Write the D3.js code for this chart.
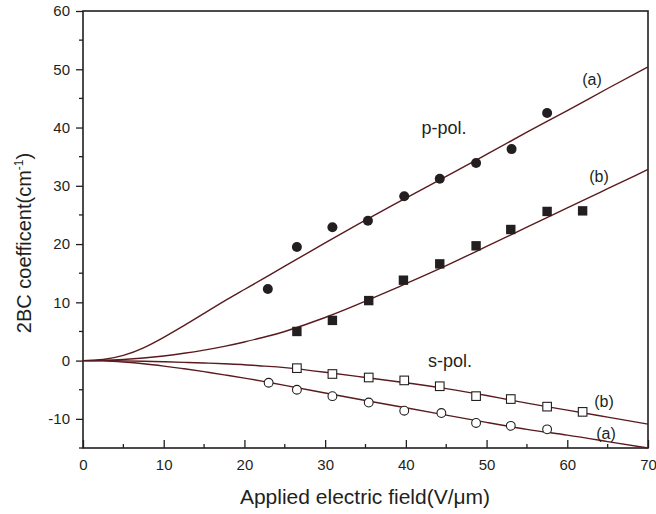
<!DOCTYPE html>
<html><head><meta charset="utf-8">
<script src="https://cdn.jsdelivr.net/npm/d3@7"></script>
<style>
body{margin:0;background:#fff;}
svg{display:block;font-family:"Liberation Sans",Arial,Helvetica,sans-serif;}
</style></head>
<body><svg id="c" width="656" height="514"></svg>
<script>
// ---- data ----
const xTicks = [0,10,20,30,40,50,60,70];
const yTicks = [-10,0,10,20,30,40,50,60];

// measured points
const pA_x = [22.9,26.5,30.9,35.3,39.8,44.2,48.7,53.1,57.5];
const pA_y = [12.3,19.5,22.9,24.0,28.2,31.2,33.9,36.3,42.5];
const pB_x = [26.5,30.9,35.4,39.7,44.2,48.7,53.0,57.5,61.9];
const pB_y = [5.0,6.9,10.3,13.8,16.6,19.7,22.5,25.6,25.7];
const sB_x = [26.5,30.9,35.4,39.8,44.2,48.7,53.0,57.5,61.9];
const sB_y = [-1.3,-2.3,-2.9,-3.4,-4.4,-6.1,-6.6,-7.9,-8.8];
const sA_x = [23.0,26.5,30.9,35.4,39.8,44.4,48.7,53.0,57.5];
const sA_y = [-3.8,-5.0,-6.1,-7.2,-8.6,-9.0,-10.7,-11.2,-11.8];

// fitted curves
const fitX  = [0,2.5,5,7.5,10,12.5,15,17.5,20,22.5,25,30,35,40,45,50,55,60,65,70];
const fitPA = [0,0.2,0.9,2.2,4.0,6.0,8.1,10.2,12.2,14.2,16.2,20.2,24.1,27.9,31.6,35.4,39.2,42.9,46.7,50.4];
const fitPB = [0,0.05,0.2,0.45,0.8,1.25,1.8,2.45,3.2,4.05,5.0,7.4,10.2,13.2,16.3,19.6,22.9,26.2,29.5,32.8];
const fitSB = [0,0,-0.05,-0.1,-0.2,-0.3,-0.4,-0.55,-0.7,-0.95,-1.2,-2.0,-2.9,-3.8,-4.8,-6.0,-7.3,-8.5,-9.7,-10.9];
const fitSA = [0,-0.05,-0.25,-0.55,-0.95,-1.4,-1.9,-2.45,-3.0,-3.6,-4.25,-5.55,-6.85,-8.1,-9.35,-10.6,-11.8,-12.8,-13.9,-15.0];

// ---- chart ----
const svg = d3.select("#c");
const L=83, R=648, T=11, B=448;
const x = d3.scaleLinear().domain([0,70]).range([L,R]);
const y = d3.scaleLinear().domain([-15,60]).range([B,T]);
const ink = "#231f20", lineCol = "#5a1a1e";
const fmt = d => String(d);

// minor ticks
const g = svg.append("g");
d3.range(5,70,10).forEach(v=>{
  g.append("line").attr("x1",x(v)).attr("x2",x(v)).attr("y1",B).attr("y2",B-4).attr("stroke",ink).attr("stroke-width",1.3);
});
d3.range(-15,60,10).forEach(v=>{
  g.append("line").attr("x1",L).attr("x2",L-4).attr("y1",y(v)).attr("y2",y(v)).attr("stroke",ink).attr("stroke-width",1.3);
});

// x axis (ticks inward)
const xa = svg.append("g").attr("transform",`translate(0,${B})`)
  .call(d3.axisBottom(x).tickValues(xTicks).tickSize(-8).tickPadding(0).tickFormat(fmt));
xa.select(".domain").remove();
xa.selectAll("line").attr("stroke",ink).attr("stroke-width",1.3);
xa.selectAll("text").attr("y",11).attr("dy","0.71em").attr("font-size",15).attr("fill",ink)
  .attr("font-family","Liberation Sans, Arial, sans-serif");

// y axis (ticks outward)
const ya = svg.append("g").attr("transform",`translate(${L},0)`)
  .call(d3.axisLeft(y).tickValues(yTicks).tickSize(7).tickPadding(6).tickFormat(fmt));
ya.select(".domain").remove();
ya.selectAll("line").attr("stroke",ink).attr("stroke-width",1.3);
ya.selectAll("text").attr("font-size",15).attr("fill",ink)
  .attr("font-family","Liberation Sans, Arial, sans-serif");

// frame
svg.append("rect").attr("x",L).attr("y",T).attr("width",R-L).attr("height",B-T)
  .attr("fill","none").attr("stroke",ink).attr("stroke-width",1.6);

// curves
const line = d3.line().x(d=>x(d[0])).y(d=>y(d[1])).curve(d3.curveNatural);
[fitPA,fitPB,fitSB,fitSA].forEach(arr=>{
  svg.append("path").datum(fitX.map((v,i)=>[v,arr[i]])).attr("d",line)
    .attr("fill","none").attr("stroke",lineCol).attr("stroke-width",1.4);
});

// markers
const zip=(a,b)=>a.map((v,i)=>[v,b[i]]);
svg.append("g").selectAll("circle").data(zip(pA_x,pA_y)).join("circle")
  .attr("cx",d=>x(d[0])).attr("cy",d=>y(d[1])).attr("r",5).attr("fill",ink);
svg.append("g").selectAll("rect").data(zip(pB_x,pB_y)).join("rect")
  .attr("x",d=>x(d[0])-4.7).attr("y",d=>y(d[1])-4.7).attr("width",9.4).attr("height",9.4).attr("fill",ink);
svg.append("g").selectAll("rect").data(zip(sB_x,sB_y)).join("rect")
  .attr("x",d=>x(d[0])-4.3).attr("y",d=>y(d[1])-4.3).attr("width",8.6).attr("height",8.6)
  .attr("fill","#fff").attr("stroke",ink).attr("stroke-width",1.1);
svg.append("g").selectAll("circle").data(zip(sA_x,sA_y)).join("circle")
  .attr("cx",d=>x(d[0])).attr("cy",d=>y(d[1])).attr("r",4.4)
  .attr("fill","#fff").attr("stroke",ink).attr("stroke-width",1.1);

// annotations
const ann = (t,px,py,fs)=>svg.append("text").attr("x",px).attr("y",py).attr("text-anchor","middle")
  .attr("font-size",fs).attr("fill",ink).text(t);
ann("(a)",592,85,16);
ann("(b)",599,182,16);
ann("p-pol.",444,134,18);
ann("s-pol.",450,367,18);
ann("(b)",604,407,16);
ann("(a)",606,439,16);

// axis titles
svg.append("text").attr("x",365).attr("y",504).attr("text-anchor","middle")
  .attr("font-size",21).attr("fill",ink).text("Applied electric field(V/\u03bcm)");
const yt = svg.append("text").attr("transform","translate(31,243) rotate(-90)").attr("text-anchor","middle")
  .attr("font-size",20).attr("fill",ink);
yt.append("tspan").text("2BC coefficent(cm");
yt.append("tspan").attr("font-size",12).attr("dy",-8).text("-1");
yt.append("tspan").attr("dy",8).text(")");
</script></body></html>
